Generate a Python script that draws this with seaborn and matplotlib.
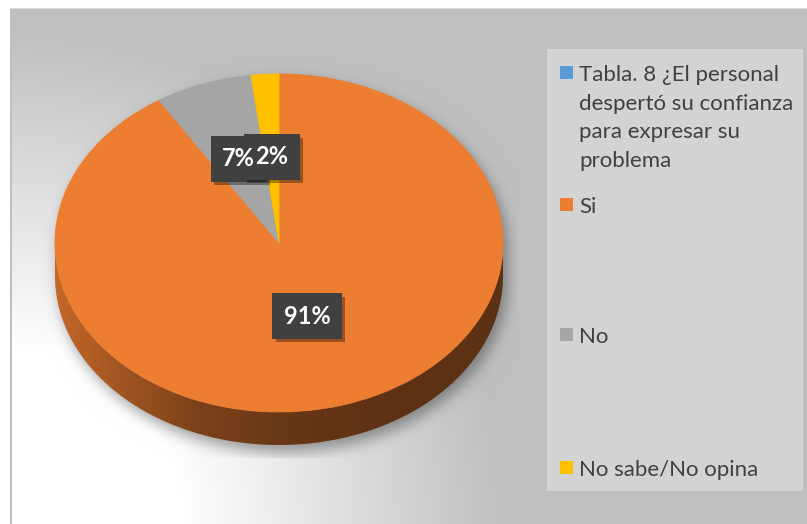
import numpy as np
import matplotlib
matplotlib.use("Agg")
import matplotlib.pyplot as plt
import seaborn as sns
from matplotlib.patches import Rectangle, Polygon
from matplotlib import patheffects as pe
from matplotlib.colors import to_rgb

# ---- data -----------------------------------------------------------------
categories = [
    "Tabla. 8 ¿El personal despertó su confianza para expresar su problema",
    "Si",
    "No",
    "No sabe/No opina",
]
legend_lines = [
    ["Tabla. 8 ¿El personal", "despertó su confianza", "para expresar su", "problema"],
    ["Si"],
    ["No"],
    ["No sabe/No opina"],
]
values = [0, 91, 7, 2]          # percent per category (title row carries no value)
colors = ["#5B9BD5", "#ED7D31", "#A5A5A5", "#FFC000"]

# ---- style ----------------------------------------------------------------
sns.set_theme(style="white")
palette = sns.color_palette(colors)
plt.rcParams["font.family"] = ["Lato", "DejaVu Sans"]

W, H = 807, 524
cx, cy, rx, ry, depth = 279, 243, 224, 169, 33   # pie ellipse in pixels
legend_text_color = "#404040"


def gblur(a, s):
    k = np.arange(-int(3 * s), int(3 * s) + 1)
    g = np.exp(-k ** 2 / (2.0 * s * s))
    g /= g.sum()
    a = np.apply_along_axis(lambda v: np.convolve(v, g, mode="same"), 0, a)
    a = np.apply_along_axis(lambda v: np.convolve(v, g, mode="same"), 1, a)
    return a


# ---- chart-area background: radial fade from the lower-left corner --------
yy, xx = np.mgrid[0:H, 0:W] + 0.5
r = np.hypot(xx - 10, yy - H)
t = np.clip((r - 172) / (495 - 172), 0, 1)
bg = 255 - t * (255 - 191)

# soft shadow of the pie body
sx, sy = xx - 4, yy - 7
dy = sy - cy
tt = np.clip(dy, 0, depth)
body = ((((sx - cx) / rx) ** 2 + ((dy - tt) / ry) ** 2) <= 1).astype(float)
shadow = gblur(body, 7)
inside = (xx >= 41) & (xx <= 518) & (yy <= 458)
bg = bg * np.where(inside, 1 - 0.36 * shadow, 1.0)

bg[:8, :] = 255
bg[:, :10] = 255
bg[8:, 10:12] = 192
bg[8, 10:] = 220
rgb = np.repeat((bg / 255.0)[:, :, None], 3, axis=2)

fig = plt.figure(figsize=(W / 100, H / 100), dpi=100)
base = fig.add_axes([0, 0, 1, 1])
base.imshow(rgb, extent=(0, W, H, 0), interpolation="bilinear", aspect="auto")
base.set_xlim(0, W)
base.set_ylim(H, 0)
base.set_axis_off()

# ---- pie ------------------------------------------------------------------
ax = fig.add_axes([0, 0, 1, 1])
ax.patch.set_alpha(0)
wedges, _ = ax.pie(
    values[1:],
    colors=palette[1:],
    startangle=90,
    counterclock=False,
    radius=1,
    wedgeprops=dict(linewidth=0.6, antialiased=True),
)
for w in wedges:
    w.set_edgecolor(w.get_facecolor())
    w.set_zorder(3)
ax.set_aspect("auto")
ax.set_axis_off()

# visible rim of the disc (front half), shaded darker toward the right
d = depth / ry
th = np.linspace(np.pi, 2 * np.pi, 300)
rim_xy = np.concatenate([
    np.column_stack([np.cos(th), np.sin(th)]),
    np.column_stack([np.cos(th[::-1]), np.sin(th[::-1]) - d]),
])
rim = Polygon(rim_xy, closed=True, facecolor="none", edgecolor="none")
ax.add_patch(rim)
px = np.linspace(cx - rx, cx + rx, 400)
shade = np.interp(px, [55, 120, 200, 300, 400, 503], [0.83, 0.68, 0.52, 0.43, 0.40, 0.39])
rim_rgb = np.clip(np.array(to_rgb(colors[1]))[None, None, :] * shade[None, :, None], 0, 1)
im = ax.imshow(rim_rgb, extent=(-1, 1, -1 - d, 0), aspect="auto",
               interpolation="bilinear", zorder=2)
im.set_clip_path(rim)
ax.set_xlim(-cx / rx, (W - cx) / rx)
ax.set_ylim(-(H - cy) / ry, cy / ry)

# ---- data labels ------------------------------------------------------------
label_dist = [0.45, 0.53, 0.51]
label_pos = []
for w, dist in zip(wedges, label_dist):
    mid = np.deg2rad((w.theta1 + w.theta2) / 2)
    label_pos.append((dist * np.cos(mid), dist * np.sin(mid)))

label_size = 17
for (lx, ly), v in zip(label_pos, values[1:]):
    box = ax.text(lx, ly, f"{v}%", fontsize=label_size, fontweight="bold", color="none",
                  ha="center", va="center", zorder=5,
                  bbox=dict(boxstyle="square,pad=0.48", fc="#404040", ec="none"))
    box.get_bbox_patch().set_path_effects([
        pe.SimplePatchShadow(offset=(2.5, -2.5), shadow_rgbFace="black", alpha=0.35),
        pe.Normal(),
    ])
for (lx, ly), v in zip(label_pos, values[1:]):
    ax.text(lx, ly, f"{v}%", fontsize=label_size, fontweight="bold", color="white",
            ha="center", va="center", zorder=6)

# ---- legend -----------------------------------------------------------------
base.add_patch(Rectangle((547, 49), 256, 442, facecolor="#D3D3D3", edgecolor="none", zorder=3))
entry_baselines = [81, 212.7, 343.3, 476]
line_step = 28.7
for lines, col, yb in zip(legend_lines, palette, entry_baselines):
    base.add_patch(Rectangle((559.5, yb - 15.2), 13, 13, facecolor=col, edgecolor="none", zorder=4))
    for i, line in enumerate(lines):
        base.text(579, yb + i * line_step, line, fontsize=16, color=legend_text_color,
                  ha="left", va="baseline", zorder=4)

fig.savefig("out.png", dpi=100)
